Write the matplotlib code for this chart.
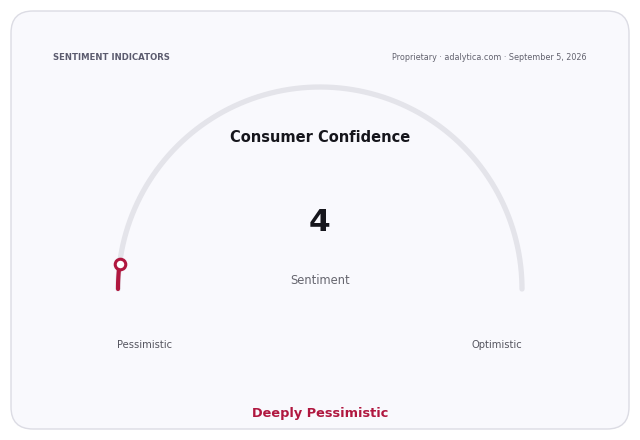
import numpy as np
import matplotlib
matplotlib.use("Agg")
import matplotlib.pyplot as plt
from matplotlib.patches import FancyBboxPatch

# Data
title = "Consumer Confidence"
value = 4
vmin, vmax = 0, 100
metric_label = "Sentiment"
low_label, high_label = "Pessimistic", "Optimistic"
status_label = "Deeply Pessimistic"
header_left = "SENTIMENT INDICATORS"
header_right = "Proprietary · adalytica.com · September 5, 2026"

RED = "#b0173f"
TRACK = "#e4e4ea"

fig = plt.figure(figsize=(6.4, 4.4), dpi=100)
fig.patch.set_facecolor("#ffffff")
ax = fig.add_axes([0, 0, 1, 1])
ax.set_xlim(0, 640)
ax.set_ylim(440, 0)
ax.axis("off")

card = FancyBboxPatch((11, 11), 618, 418, boxstyle="round,pad=0,rounding_size=22",
                      facecolor="#f9f9fd", edgecolor="#dcdce4", linewidth=1.0)
ax.add_patch(card)

cx, cy, r = 320, 289, 202
th = np.linspace(np.pi, 0, 300)
ax.plot(cx + r*np.cos(th), cy - r*np.sin(th), color=TRACK, lw=3.8, solid_capstyle="round", zorder=2)

frac = (value - vmin) / (vmax - vmin)
end = np.pi - np.pi*frac
th2 = np.linspace(np.pi, end, 50)
ax.plot(cx + r*np.cos(th2), cy - r*np.sin(th2), color=RED, lw=3.0, solid_capstyle="round", zorder=3)
ax.plot([cx + r*np.cos(end)], [cy - r*np.sin(end)], marker="o", ms=7.6, mfc="white",
        mec=RED, mew=2.2, zorder=4)

ax.text(53, 57, header_left, fontsize=6.1, fontweight="bold", color="#5b5b6e", ha="left", va="center")
ax.text(587, 57, header_right, fontsize=5.75, color="#62626e", ha="right", va="center")
ax.text(320, 137, title, fontsize=10.5, fontweight="bold", color="#16161c", ha="center", va="center")
ax.text(320, 222.5, str(value), fontsize=22.5, fontweight="bold", color="#16161c", ha="center", va="center")
ax.text(320, 281, metric_label, fontsize=8.3, color="#66666f", ha="center", va="center")
ax.text(145, 345, low_label, fontsize=7.2, color="#55555f", ha="center", va="center")
ax.text(497, 345, high_label, fontsize=7.2, color="#55555f", ha="center", va="center")
ax.text(320, 414, status_label, fontsize=9.3, fontweight="bold", color=RED, ha="center", va="center")

fig.savefig("out.png", dpi=100, facecolor=fig.get_facecolor())
